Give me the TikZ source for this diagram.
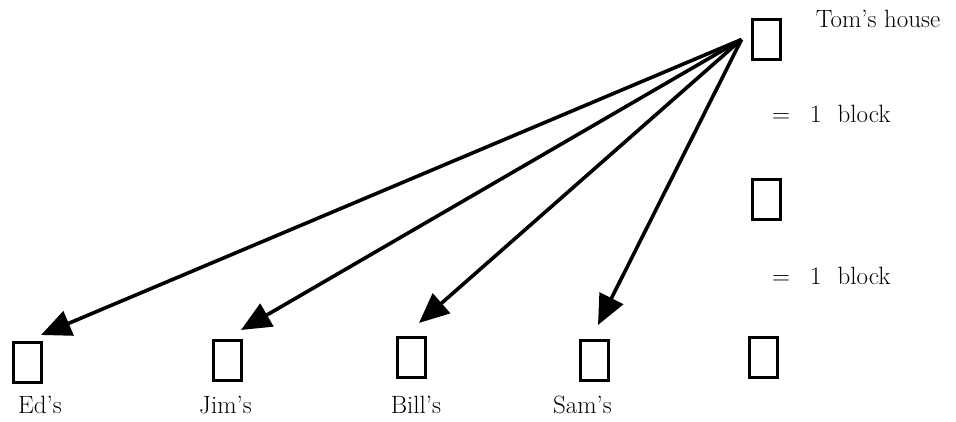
\documentclass[tikz,border=0pt]{standalone}
\usetikzlibrary{arrows.meta,calc}
\begin{document}
\begin{tikzpicture}[x=1pt,y=-1pt,
  house/.style={draw,line width=3pt,minimum width=28pt,minimum height=40pt,inner sep=0pt},
  lbl/.style={font=\fontsize{25}{30}\selectfont,inner sep=0pt},
  conn/.style={line width=3.6pt,-{Triangle[length=30pt,width=26pt]}}]
\useasboundingbox (0,0) rectangle (956,422);
\node[house] (tom) at (766,39.5) {};
\node[house] (mid) at (766,200) {};
\node[house] (right) at (763,357.5) {};
\node[house] (ed) at (27,362.5) {};
\node[house] (jim) at (227,360) {};
\node[house] (bill) at (411,357.5) {};
\node[house] (sam) at (594.5,360) {};
\node[lbl,anchor=base] (tomlbl) at (878,28) {Tom’s house};
\node[lbl,anchor=base west] (b1) at (772,123) {=\hspace{20pt}1\hspace{16pt}block};
\node[lbl,anchor=base west] (b2) at (772,284) {=\hspace{20pt}1\hspace{16pt}block};
\node[lbl,anchor=base] (edl) at (40,413) {Ed’s};
\node[lbl,anchor=base] (jiml) at (225.5,413) {Jim’s};
\node[lbl,anchor=base] (billl) at (416,413) {Bill’s};
\node[lbl,anchor=base] (saml) at (582.5,413) {Sam’s};
\coordinate (src) at ($(tom.west)+(-9,0)$);
\coordinate (edt) at (41,335);
\coordinate (jimt) at (241,330);
\coordinate (billt) at (419,323);
\coordinate (samt) at (598,325);
\draw[conn] (src) -- (edt);
\draw[conn] (src) -- (jimt);
\draw[conn] (src) -- (billt);
\draw[conn] (src) -- (samt);
\end{tikzpicture}
\end{document}
